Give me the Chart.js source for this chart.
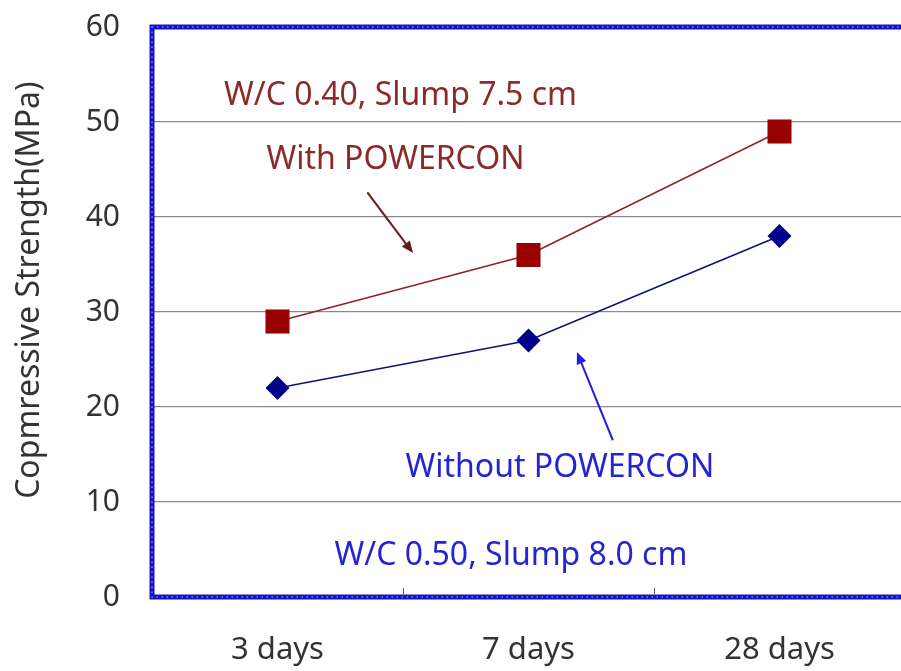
<!DOCTYPE html>
<html>
<head>
<meta charset="utf-8">
<script src="https://cdn.jsdelivr.net/npm/chart.js@4.4.0/dist/chart.umd.min.js"></script>
<style>
  html, body { margin: 0; padding: 0; background: #fff; overflow: hidden; }
  #wrap { width: 922px; height: 671px; }
</style>
</head>
<body>
<div id="wrap"><canvas id="chart" width="922" height="671"></canvas></div>
<script>
const ages = ['3 days', '7 days', '28 days'];
const withPowercon = [29, 36, 49];
const withoutPowercon = [22, 27, 38];
const yTicks = [0, 10, 20, 30, 40, 50, 60];
const yTitle = 'Copmressive Strength(MPa)';

const fontFamily = '"Noto Sans", "Open Sans", sans-serif';
const redText = '#8c2a2a';
const blueText = '#2424d0';

// notes and arrows, placed in data units (category index, MPa)
const notes = [
  { text: 'W/C 0.40, Slump 7.5 cm', x: 0.49, y: 52.7, color: redText },
  { text: 'With POWERCON', x: 0.47, y: 46.0, color: redText },
  { text: 'Without POWERCON', x: 1.125, y: 13.6, color: blueText },
  { text: 'W/C 0.50, Slump 8.0 cm', x: 0.93, y: 4.3, color: blueText }
];
const arrows = [
  { from: [0.358, 42.6], to: [0.54, 36.2], color: '#6a1a1a' },
  { from: [1.336, 16.5], to: [1.193, 25.8], color: '#2020d8' }
];

const decorPlugin = {
  id: 'decor',
  afterDraw(chart) {
    const ctx = chart.ctx;
    const xs = chart.scales.x, ys = chart.scales.y;
    const a = chart.chartArea;
    ctx.save();

    // blue frame
    ctx.lineWidth = 5;
    ctx.strokeStyle = '#1414c4';
    ctx.strokeRect(a.left, a.top, a.right - a.left, a.bottom - a.top);
    ctx.lineWidth = 1.5;
    ctx.strokeStyle = '#7a7aff';
    ctx.setLineDash([1.5, 3.5]);
    ctx.strokeRect(a.left, a.top, a.right - a.left, a.bottom - a.top);
    ctx.setLineDash([]);

    // small marks on the bottom edge between categories
    ctx.strokeStyle = '#555';
    ctx.lineWidth = 1;
    for (let i = 0; i < ages.length - 1; i++) {
      const px = Math.round(xs.getPixelForValue(i + 0.5)) + 0.5;
      ctx.beginPath();
      ctx.moveTo(px, a.bottom - 3);
      ctx.lineTo(px, a.bottom - 9);
      ctx.stroke();
    }

    ctx.font = '32px ' + fontFamily;
    ctx.textAlign = 'center';
    ctx.textBaseline = 'middle';
    notes.forEach(n => {
      ctx.fillStyle = n.color;
      ctx.fillText(n.text, xs.getPixelForValue(n.x), ys.getPixelForValue(n.y));
    });

    // y axis title, sits a bit above the middle of the axis
    ctx.save();
    ctx.translate(30, ys.getPixelForValue(32.3));
    ctx.rotate(-Math.PI / 2);
    ctx.fillStyle = '#333';
    ctx.fillText(yTitle, 0, 0);
    ctx.restore();

    arrows.forEach(ar => {
      const x1 = xs.getPixelForValue(ar.from[0]), y1 = ys.getPixelForValue(ar.from[1]);
      const x2 = xs.getPixelForValue(ar.to[0]), y2 = ys.getPixelForValue(ar.to[1]);
      const ang = Math.atan2(y2 - y1, x2 - x1);
      const head = 13;
      ctx.strokeStyle = ar.color;
      ctx.fillStyle = ar.color;
      ctx.lineWidth = 2;
      ctx.beginPath();
      ctx.moveTo(x1, y1);
      ctx.lineTo(x2 - Math.cos(ang) * head * 0.8, y2 - Math.sin(ang) * head * 0.8);
      ctx.stroke();
      ctx.beginPath();
      ctx.moveTo(x2, y2);
      ctx.lineTo(x2 - head * Math.cos(ang - 0.4), y2 - head * Math.sin(ang - 0.4));
      ctx.lineTo(x2 - head * Math.cos(ang + 0.4), y2 - head * Math.sin(ang + 0.4));
      ctx.closePath();
      ctx.fill();
    });
    ctx.restore();
  }
};

const chart = new Chart(document.getElementById('chart').getContext('2d'), {
  type: 'line',
  data: {
    labels: ages,
    datasets: [
      {
        label: 'With POWERCON',
        data: withPowercon,
        borderColor: '#8e2424',
        borderWidth: 1.6,
        backgroundColor: '#990000',
        pointStyle: 'rect',
        pointRadius: 17,
        pointBorderWidth: 0,
        pointBackgroundColor: '#990000',
        tension: 0
      },
      {
        label: 'Without POWERCON',
        data: withoutPowercon,
        borderColor: '#12127e',
        borderWidth: 1.6,
        backgroundColor: '#000088',
        pointStyle: 'rectRot',
        pointRadius: 12,
        pointBorderWidth: 0,
        pointBackgroundColor: '#000088',
        tension: 0
      }
    ]
  },
  options: {
    responsive: false,
    animation: false,
    layout: { padding: { top: 27, right: 4, left: 0, bottom: 0 } },
    plugins: {
      legend: { display: false },
      tooltip: { enabled: false }
    },
    scales: {
      x: {
        offset: true,
        grid: { display: false, drawTicks: false },
        border: { display: false },
        ticks: {
          color: '#333',
          padding: 35,
          font: { family: fontFamily, size: 31 }
        },
        afterFit(scale) {
          scale.height = 74;
          scale.paddingLeft = 0;
          scale.paddingRight = 0;
        }
      },
      y: {
        min: 0,
        max: 60,
        afterBuildTicks(scale) { scale.ticks = yTicks.map(v => ({ value: v })); },
        grid: {
          drawTicks: false,
          lineWidth: 1.3,
          color: c => (c.tick && (c.tick.value === 0 || c.tick.value === 60)) ? 'rgba(0,0,0,0)' : '#8a8a8a'
        },
        border: { display: false },
        ticks: {
          color: '#333',
          padding: 32,
          font: { family: fontFamily, size: 30 }
        },
        afterFit(scale) {
          scale.width = 152;
          scale.paddingTop = 0;
          scale.paddingBottom = 0;
        }
      }
    }
  },
  plugins: [decorPlugin]
});
</script>
</body>
</html>
